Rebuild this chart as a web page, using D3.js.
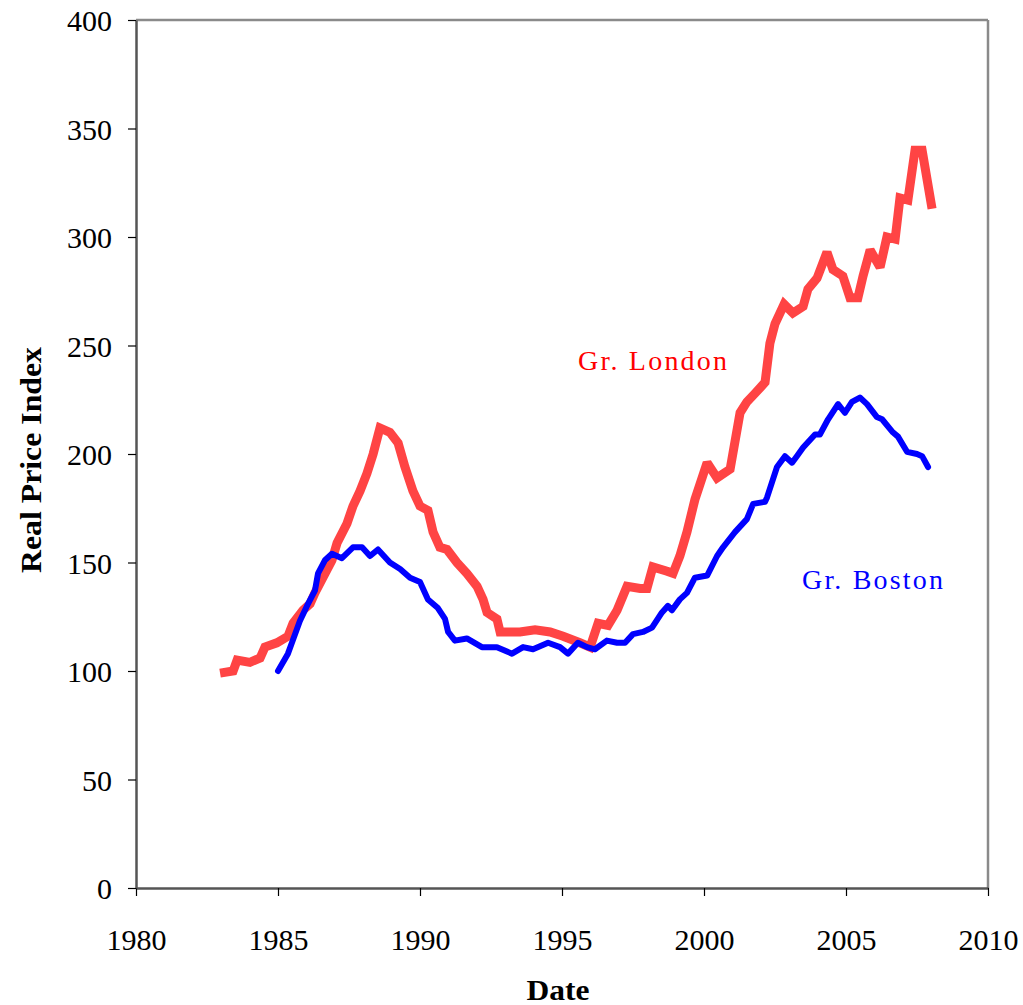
<!DOCTYPE html>
<html><head><meta charset="utf-8">
<script src="https://cdn.jsdelivr.net/npm/d3@7"></script>
<style>body{margin:0;background:#fff}svg{display:block}</style>
</head><body>
<svg id="chart" width="1023" height="1005"></svg>
<script>
// Data: [year, index]
const londonYears = [1982.96,1983.42,1983.56,1984.01,1984.37,1984.54,1984.96,1985.35,1985.53,1985.88,1986.13,1986.30,1986.58,1986.90,1987.08,1987.43,1987.64,1987.89,1988.13,1988.35,1988.59,1988.94,1989.23,1989.47,1989.75,1990.00,1990.28,1990.46,1990.70,1990.95,1991.30,1991.65,1992.01,1992.22,1992.36,1992.71,1992.82,1993.52,1994.05,1994.58,1995.04,1995.63,1995.99,1996.27,1996.62,1996.94,1997.29,1997.75,1997.99,1998.20,1998.70,1998.91,1999.15,1999.40,1999.68,2000.11,2000.46,2000.92,2001.27,2001.51,2001.80,2002.15,2002.32,2002.50,2002.82,2003.13,2003.49,2003.66,2003.98,2004.33,2004.54,2004.89,2005.14,2005.42,2005.60,2005.85,2006.20,2006.44,2006.73,2006.90,2007.18,2007.43,2007.68,2008.03];
const londonValues = [99,100,105,104,106,111,113,116,122,128,131,136,143,151,159,168,176,183,191,200,212,210,205,194,183,176,174,164,157,156,150,145,139,133,127,124,118,118,119,118,116,113,111,122,121,128,139,138,138,148,146,145,153,164,179,196,189,193,219,224,228,233,251,260,269,265,268,276,281,293,285,282,272,272,282,294,286,300,299,318,317,340,340,313];
const bostonYears = [1985.00,1985.35,1985.49,1985.77,1986.02,1986.30,1986.41,1986.65,1986.90,1987.25,1987.64,1987.96,1988.24,1988.52,1988.94,1989.30,1989.65,1990.00,1990.28,1990.63,1990.88,1990.99,1991.23,1991.65,1992.18,1992.71,1993.24,1993.63,1993.98,1994.51,1994.93,1995.21,1995.56,1995.88,1996.16,1996.58,1996.94,1997.22,1997.50,1997.85,1998.17,1998.52,1998.73,1998.87,1999.15,1999.40,1999.68,2000.11,2000.46,2000.67,2001.09,2001.51,2001.73,2002.15,2002.22,2002.57,2002.85,2003.10,2003.27,2003.49,2003.91,2004.08,2004.37,2004.72,2004.96,2005.21,2005.49,2005.74,2006.09,2006.27,2006.65,2006.83,2007.15,2007.50,2007.68,2007.89];
const bostonValues = [100,108,113,123,130,137,145,151,154,152,157,157,153,156,150,147,143,141,133,129,124,118,114,115,111,111,108,111,110,113,111,108,113,111,110,114,113,113,117,118,120,127,130,128,133,136,143,144,153,157,164,170,177,178,180,194,199,196,199,203,209,209,216,223,219,224,226,223,217,216,210,208,201,200,199,194];
const xTicks = [1980,1985,1990,1995,2000,2005,2010];
const yTicks = [0,50,100,150,200,250,300,350,400];
const seriesLabels = ["Gr. London","Gr. Boston"];

const svg = d3.select("#chart");
const pL = 136, pR = 988, pT = 20, pB = 888;
const x = d3.scaleLinear().domain([1980,2010]).range([pL,pR]);
const y = d3.scaleLinear().domain([0,400]).range([pB,pT]);
const font = "'Liberation Serif','Times New Roman',serif";

// frame
svg.append("line").attr("x1",pL).attr("x2",pR).attr("y1",pT).attr("y2",pT).attr("stroke","#8a8a8a").attr("stroke-width",2.5);
svg.append("line").attr("x1",pR).attr("x2",pR).attr("y1",pT).attr("y2",pB).attr("stroke","#8a8a8a").attr("stroke-width",2.5);

const xAxis = svg.append("g").attr("transform",`translate(0,${pB})`)
  .call(d3.axisBottom(x).tickValues(xTicks).tickFormat(d3.format("d")).tickSize(8).tickSizeOuter(0));
const yAxis = svg.append("g").attr("transform",`translate(${pL},0)`)
  .call(d3.axisLeft(y).tickValues(yTicks).tickSize(8).tickSizeOuter(0));
[xAxis,yAxis].forEach(g=>{
  g.select(".domain").attr("stroke","#555").attr("stroke-width",2.5);
  g.selectAll(".tick line").attr("stroke","#000").attr("stroke-width",1.2);
  g.selectAll(".tick text").attr("font-family",font).attr("font-size",30).attr("fill","#000");
});
xAxis.selectAll(".tick text").attr("dy",0).attr("y",62);
yAxis.selectAll(".tick text").attr("x",-24).attr("dy","0.35em");

const line = d3.line().x(d=>x(d[0])).y(d=>y(d[1]));
const london = londonYears.map((t,i)=>[t,londonValues[i]]);
const boston = bostonYears.map((t,i)=>[t,bostonValues[i]]);

svg.append("path").datum(london).attr("d",line).attr("fill","none")
  .attr("stroke","#ff4444").attr("stroke-width",9).attr("stroke-linejoin","miter").attr("stroke-miterlimit",2).attr("stroke-linecap","butt");
svg.append("path").datum(boston).attr("d",line).attr("fill","none")
  .attr("stroke","#0000ff").attr("stroke-width",6).attr("stroke-linejoin","round").attr("stroke-linecap","round");

svg.append("text").attr("x",578).attr("y",370).attr("font-family",font).attr("font-size",28)
  .attr("fill","#ff0000").attr("textLength",149).text(seriesLabels[0]);
svg.append("text").attr("x",802).attr("y",589).attr("font-family",font).attr("font-size",28)
  .attr("fill","#0000ff").attr("textLength",141).text(seriesLabels[1]);

svg.append("text").attr("transform","translate(41,460) rotate(-90)").attr("text-anchor","middle")
  .attr("font-family",font).attr("font-size",29).attr("font-weight","bold")
  .attr("textLength",226).attr("lengthAdjust","spacingAndGlyphs").text("Real Price Index");
svg.append("text").attr("x",558).attr("y",1000).attr("text-anchor","middle")
  .attr("font-family",font).attr("font-size",30).attr("font-weight","bold")
  .attr("textLength",63).attr("lengthAdjust","spacingAndGlyphs").text("Date");
</script>
</body></html>
